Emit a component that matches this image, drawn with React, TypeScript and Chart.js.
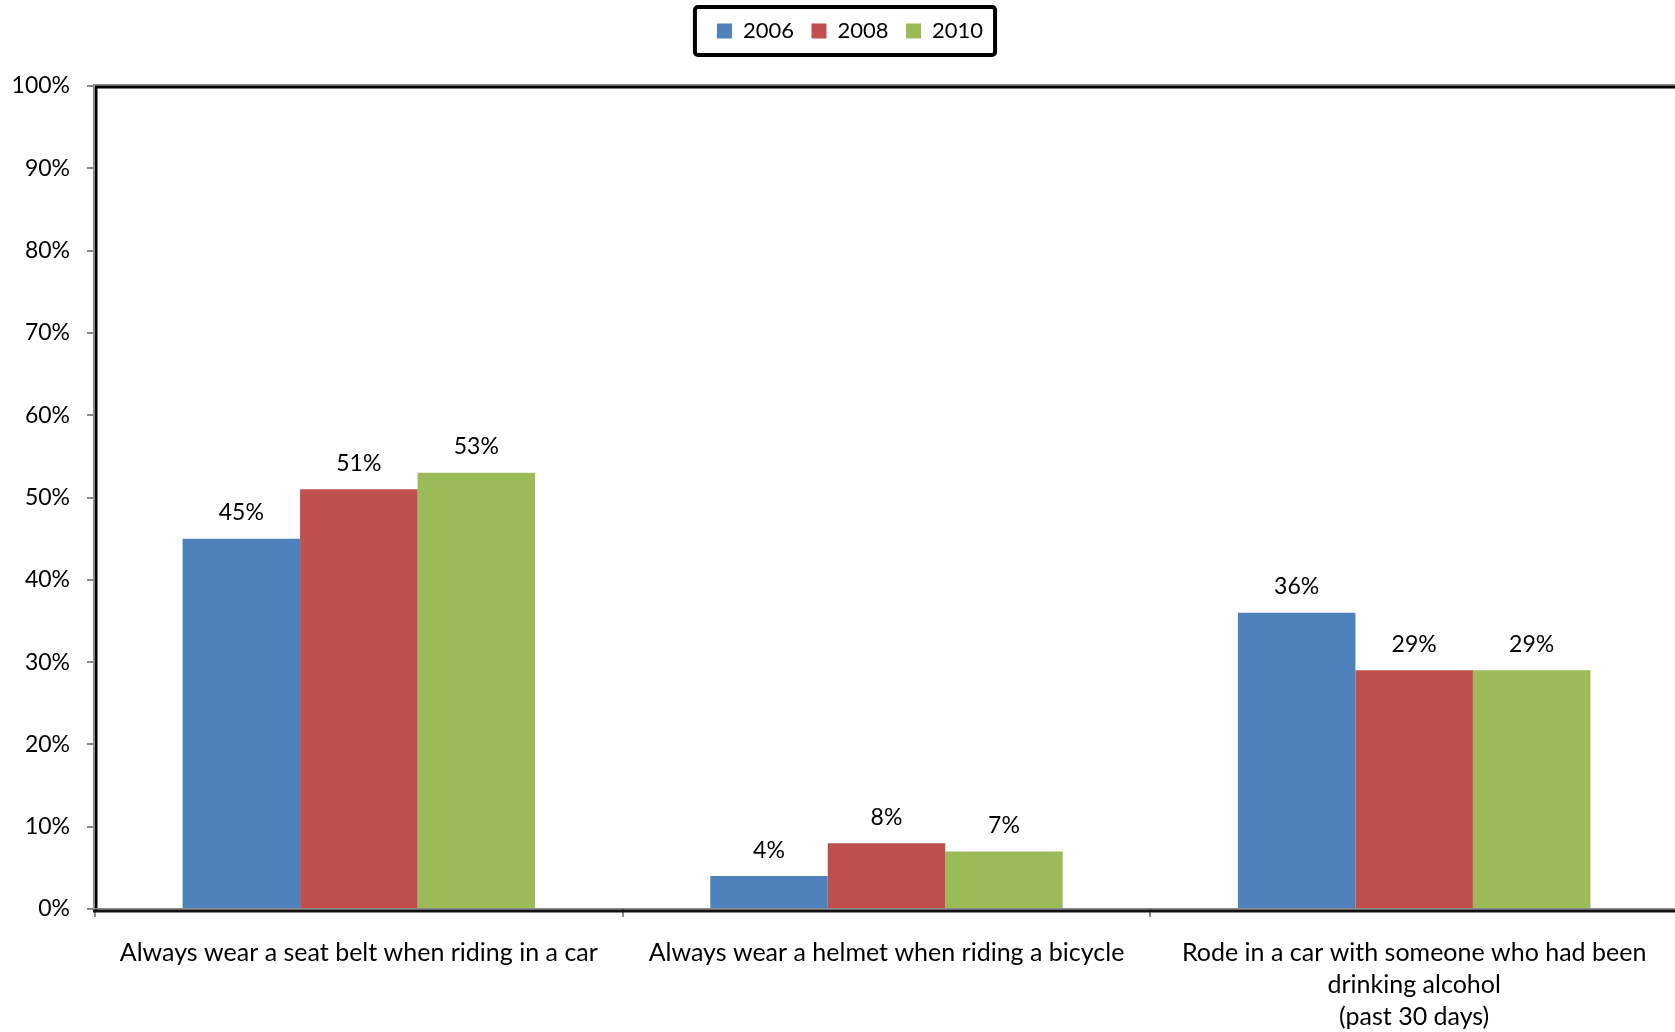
import React, { useEffect, useRef } from 'react';
import { Chart, registerables } from 'chart.js';

Chart.register(...registerables);

const categories: (string | string[])[] = [
  'Always wear a seat belt when riding in a car',
  'Always wear a helmet when riding a bicycle',
  ['Rode in a car with someone who had been', 'drinking alcohol', '(past 30 days)'],
];
const seriesNames = ['2006', '2008', '2010'];
const values2006 = [45, 4, 36];
const values2008 = [51, 8, 29];
const values2010 = [53, 7, 29];
const seriesColors = ['#4F81BD', '#C0504D', '#9BBB59'];
const yMin = 0;
const yMax = 100;
const yStep = 10;

const FONT = 'Lato';

const legendExtraPlugin = {
  id: 'legendExtra',
  beforeLayout(chart: any) {
    const lg = chart.legend;
    if (lg && !lg.__patched) {
      const orig = lg.fit;
      lg.fit = function () {
        orig.call(this);
        this.height += 34;
      };
      lg.__patched = true;
    }
  },
  afterLayout(chart: any) {
    const lg = chart.legend;
    if (lg) {
      lg.left += 11;
      lg.right += 11;
    }
  },
};

const framePlugin = {
  id: 'frameAndLabels',
  afterDraw(chart: any) {
    const { ctx, chartArea } = chart;
    const { left, top, bottom, right } = chartArea;
    ctx.save();
    const w = right - left + 4;
    // top border
    ctx.fillStyle = '#8a8a8a';
    ctx.fillRect(left - 2, top - 2, w, 1.5);
    ctx.fillStyle = '#000';
    ctx.fillRect(left - 2, top - 0.5, w, 3);
    // left border
    ctx.fillStyle = '#8a8a8a';
    ctx.fillRect(left - 2, top - 2, 2, bottom - top + 5);
    ctx.fillStyle = '#000';
    ctx.fillRect(left, top, 2.5, bottom - top + 3);
    // bottom border
    ctx.fillStyle = '#8a8a8a';
    ctx.fillRect(left, bottom - 1, w, 1.5);
    ctx.fillStyle = '#111';
    ctx.fillRect(left - 2, bottom + 0.5, w, 3);

    // data labels
    ctx.fillStyle = '#000';
    ctx.font = `23px ${FONT}`;
    ctx.textAlign = 'center';
    ctx.textBaseline = 'middle';
    chart.data.datasets.forEach((ds: any, di: number) => {
      const meta = chart.getDatasetMeta(di);
      meta.data.forEach((el: any, i: number) => {
        ctx.fillText(`${ds.data[i]}%`, el.x, el.y - 26);
      });
    });

    // legend frame
    const lg = chart.legend;
    if (lg && lg.legendHitBoxes && lg.legendHitBoxes.length) {
      const hb = lg.legendHitBoxes;
      const x0 = hb[0].left - 22;
      const last = hb[hb.length - 1];
      const x1 = last.left + last.width + 12;
      const cy = hb[0].top + hb[0].height / 2;
      ctx.strokeStyle = '#000';
      ctx.lineWidth = 4;
      ctx.beginPath();
      ctx.roundRect(x0, cy - 24, x1 - x0, 48, 3);
      ctx.stroke();
    }
    ctx.restore();
  },
};

export default function App() {
  const ref = useRef<HTMLCanvasElement | null>(null);
  useEffect(() => {
    if (!ref.current) return;
    const seriesValues = [values2006, values2008, values2010];
    const chart = new Chart(ref.current, {
      type: 'bar',
      data: {
        labels: categories,
        datasets: seriesNames.map((name, i) => ({
          label: name,
          data: seriesValues[i],
          backgroundColor: seriesColors[i],
          borderWidth: 0,
          categoryPercentage: 0.668,
          barPercentage: 1,
        })),
      },
      options: {
        responsive: false,
        animation: false,
        layout: { padding: { top: 2.5, left: 0, right: 0, bottom: 0 } },
        plugins: {
          tooltip: { enabled: false },
          legend: {
            display: true,
            position: 'top',
            align: 'center',
            labels: {
              boxWidth: 15,
              boxHeight: 15,
              padding: 17.5,
              color: '#000',
              font: { family: FONT, size: 22 },
            },
          },
        },
        scales: {
          x: {
            offset: true,
            grid: {
              display: true,
              offset: true,
              drawOnChartArea: false,
              drawTicks: true,
              tickLength: 8,
              color: '#8a8a8a',
              lineWidth: 2,
            },
            border: { display: false },
            ticks: {
              color: '#000',
              font: { family: FONT, size: 25, lineHeight: 1.28 },
              padding: 20,
              maxRotation: 0,
              minRotation: 0,
              autoSkip: false,
            },
            afterFit: (s: any) => {
              s.height = 123;
            },
          },
          y: {
            min: yMin,
            max: yMax,
            grid: {
              display: true,
              drawOnChartArea: false,
              drawTicks: true,
              tickLength: 8,
              color: '#8a8a8a',
              lineWidth: 2,
            },
            border: { display: false },
            ticks: {
              stepSize: yStep,
              color: '#000',
              font: { family: FONT, size: 23 },
              padding: 17,
              callback: (v: any) => `${v}%`,
            },
            afterFit: (s: any) => {
              s.width = 95;
            },
          },
        },
      },
      plugins: [legendExtraPlugin, framePlugin],
    });
    return () => chart.destroy();
  }, []);
  return (
    <div
      style={{
        position: 'absolute',
        left: 0,
        top: 0,
        width: 1675,
        height: 1032,
        overflow: 'hidden',
        background: '#fff',
      }}
    >
      <canvas ref={ref} width={1678} height={1032} style={{ display: 'block' }} />
    </div>
  );
}
